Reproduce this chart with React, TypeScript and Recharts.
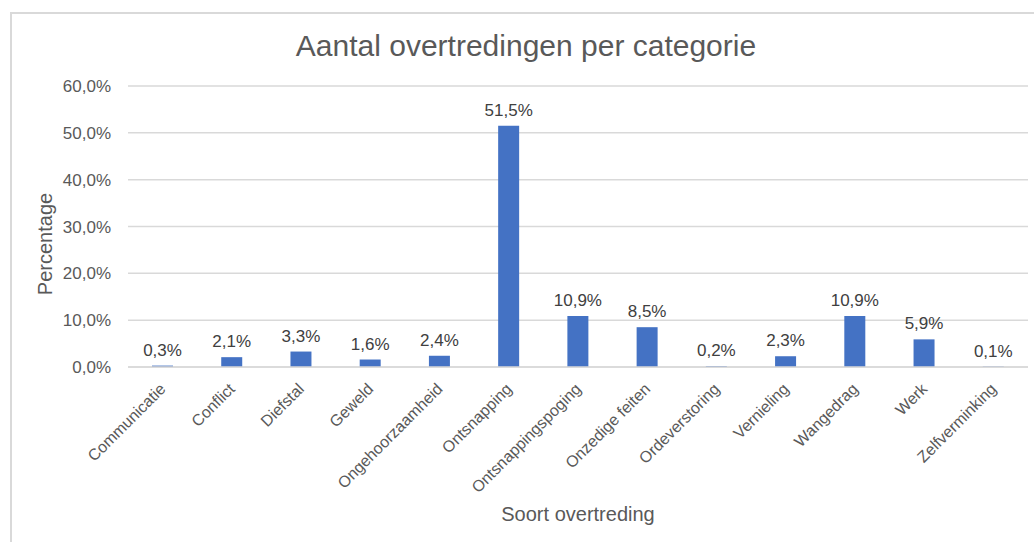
import { Bar, BarChart, CartesianGrid, LabelList, XAxis, YAxis } from "recharts";

const categories = [
  "Communicatie",
  "Conflict",
  "Diefstal",
  "Geweld",
  "Ongehoorzaamheid",
  "Ontsnapping",
  "Ontsnappingspoging",
  "Onzedige feiten",
  "Ordeverstoring",
  "Vernieling",
  "Wangedrag",
  "Werk",
  "Zelfverminking",
];
const percentages = [0.3, 2.1, 3.3, 1.6, 2.4, 51.5, 10.9, 8.5, 0.2, 2.3, 10.9, 5.9, 0.1];
const yTicks = [0, 10, 20, 30, 40, 50, 60];

const FONT = "'Liberation Sans', Arial, sans-serif";

const chartData = categories.map((name, i) => ({ name, value: percentages[i] }));

// 51.5 -> "51,5%"
const pct = (v: number) => `${v.toFixed(1).replace(".", ",")}%`;

function RotatedTick(props: any) {
  const { x, y, payload } = props;
  const tx = x + 4;
  const ty = y + 15;
  return (
    <text
      x={tx}
      y={ty}
      textAnchor="end"
      transform={`rotate(-45, ${tx}, ${ty})`}
      fontSize={16}
      fontFamily={FONT}
      fill="#595959"
    >
      {payload.value}
    </text>
  );
}

export default function App() {
  return (
    <div style={{ position: "absolute", left: 0, top: 0, width: 1034, height: 542, background: "#fff", overflow: "hidden" }}>
      <div
        style={{
          position: "absolute",
          left: 10,
          top: 12,
          width: 1040,
          height: 560,
          border: "2px solid #d9d9d9",
        }}
      />
      <div style={{ position: "absolute", left: 0, top: 0 }}>
        <BarChart width={1034} height={542} data={chartData} margin={{ top: 86, right: 6, bottom: 115, left: 68 }}>
          <CartesianGrid vertical={false} stroke="#d9d9d9" strokeWidth={1.5} />
          <XAxis
            dataKey="name"
            interval={0}
            height={60}
            tickLine={false}
            axisLine={{ stroke: "#d9d9d9", strokeWidth: 1.5 }}
            tick={<RotatedTick />}
          />
          <YAxis
            width={60}
            domain={[0, 60]}
            ticks={yTicks}
            tickFormatter={pct}
            axisLine={false}
            tickLine={false}
            tickMargin={11}
            tick={{ fontSize: 17, fontFamily: FONT, fill: "#595959" }}
          />
          <Bar dataKey="value" fill="#4472C4" barSize={21} isAnimationActive={false}>
            <LabelList
              dataKey="value"
              position="top"
              offset={10}
              formatter={(v: any) => pct(Number(v))}
              style={{ fontSize: 17, fontFamily: FONT, fill: "#404040" }}
            />
          </Bar>
        </BarChart>
      </div>
      <svg width={1034} height={542} style={{ position: "absolute", left: 0, top: 0, pointerEvents: "none" }}>
        <text x={526} y={56} textAnchor="middle" fontSize={30} fontFamily={FONT} fill="#595959">
          Aantal overtredingen per categorie
        </text>
        <text
          x={52}
          y={244}
          textAnchor="middle"
          transform="rotate(-90, 52, 244)"
          fontSize={20}
          fontFamily={FONT}
          fill="#595959"
        >
          Percentage
        </text>
        <text x={578} y={521} textAnchor="middle" fontSize={20} fontFamily={FONT} fill="#595959">
          Soort overtreding
        </text>
      </svg>
    </div>
  );
}
